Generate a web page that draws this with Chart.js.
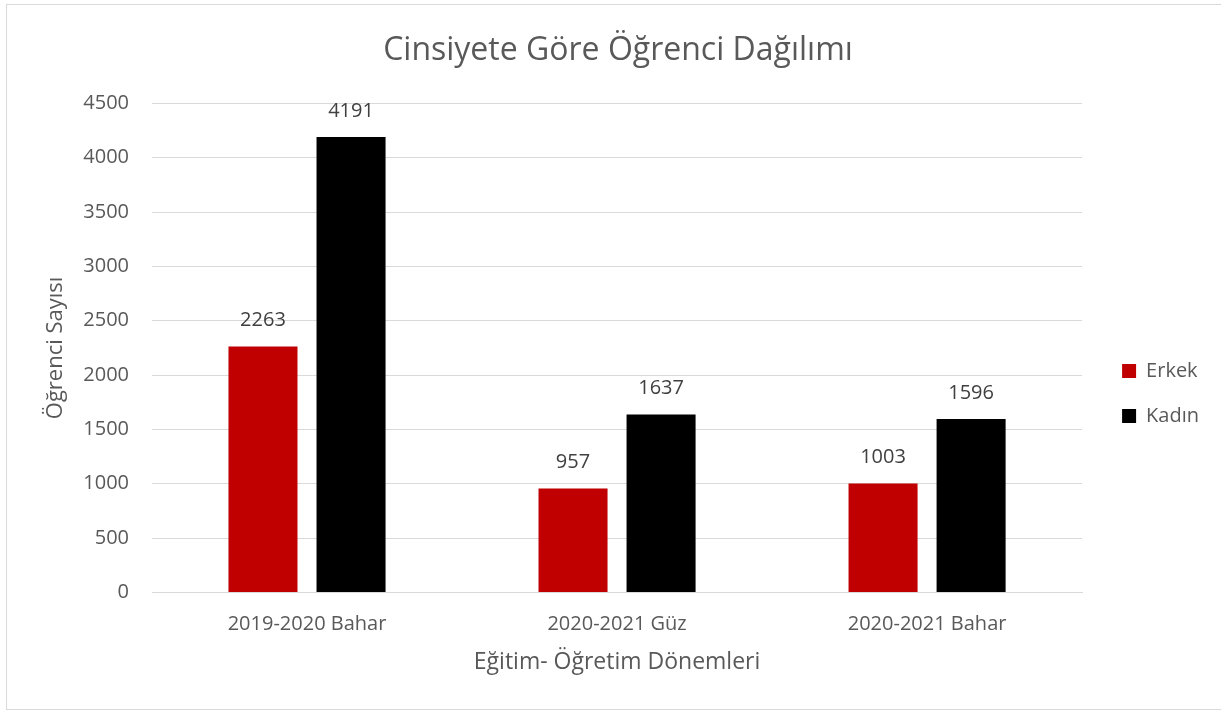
<!DOCTYPE html>
<html>
<head>
<meta charset="utf-8">
<script src="https://cdn.jsdelivr.net/npm/chart.js@4"></script>
<style>
  body { margin: 0; background: #fff; overflow: hidden; }
  #box { position: absolute; left: 6px; top: 4px; width: 1215px; height: 704px; border: 1px solid #d9d9d9; border-right: none; }
</style>
</head>
<body>
<div id="box"><canvas id="genderChart" width="1214" height="704"></canvas></div>
<script>
// Data
const categories = ['2019-2020 Bahar', '2020-2021 Güz', '2020-2021 Bahar'];
const erkek = [2263, 957, 1003];
const kadin = [4191, 1637, 1596];
const yTicks = [0, 500, 1000, 1500, 2000, 2500, 3000, 3500, 4000, 4500];

const FONT = 'Open Sans';
const GREY = '#595959';

// draw the value above each bar
const barValues = {
    id: 'barValues',
    afterDatasetsDraw(chart) {
        const ctx = chart.ctx;
        ctx.save();
        ctx.font = '20px "' + FONT + '"';
        ctx.fillStyle = '#404040';
        ctx.textAlign = 'center';
        ctx.textBaseline = 'middle';
        chart.data.datasets.forEach((ds, i) => {
            chart.getDatasetMeta(i).data.forEach((bar, j) => {
                ctx.fillText(ds.data[j], bar.x, bar.y - 26);
            });
        });
        ctx.restore();
    }
};

const config = {
    type: 'bar',
    data: {
        labels: categories,
        datasets: [
            { label: 'Erkek', data: erkek, backgroundColor: '#c00000', categoryPercentage: 0.568, barPercentage: 0.784 },
            { label: 'Kadın', data: kadin, backgroundColor: '#000000', categoryPercentage: 0.568, barPercentage: 0.784 }
        ]
    },
    options: {
        responsive: false,
        animation: false,
        layout: { padding: { left: 20, right: 12, top: 6, bottom: 29 } },
        plugins: {
            title: {
                display: true,
                text: 'Cinsiyete Göre Öğrenci Dağılımı',
                color: GREY,
                font: { family: FONT, size: 32, weight: 'normal' },
                padding: { top: 21, bottom: 33 }
            },
            legend: {
                position: 'right',
                title: { display: true, text: ' ', font: { size: 10 }, padding: { top: 40, bottom: 44 } },
                labels: {
                    color: GREY,
                    font: { family: FONT, size: 20 },
                    boxWidth: 14,
                    boxHeight: 14,
                    padding: 25
                }
            },
            tooltip: { enabled: false }
        },
        scales: {
            x: {
                grid: { display: false, drawTicks: false },
                border: { color: '#d9d9d9', width: 1 },
                ticks: { color: GREY, font: { family: FONT, size: 20 }, padding: 20 },
                title: { display: true, text: 'Eğitim- Öğretim Dönemleri', color: GREY, font: { family: FONT, size: 23 }, padding: { top: -8, bottom: 4 } }
            },
            y: {
                min: 0,
                max: 4500,
                afterBuildTicks(scale) { scale.ticks = yTicks.map(v => ({ value: v })); },
                afterFit(scale) { scale.width = 125; },
                grid: { color: '#d9d9d9', drawTicks: false },
                border: { display: false },
                ticks: { color: GREY, font: { family: FONT, size: 20 }, padding: 23, callback: v => String(v) },
                title: { display: true, text: 'Öğrenci Sayısı', color: GREY, font: { family: FONT, size: 22 }, padding: { top: 16, bottom: 4 } }
            },
            // empty box between plot and legend
            gap: {
                position: 'right',
                display: true,
                min: 0,
                max: 1,
                afterFit(scale) { scale.width = 15; },
                grid: { display: false, drawTicks: false },
                border: { display: false },
                ticks: { display: false }
            }
        }
    },
    plugins: [barValues]
};

const ctx = document.getElementById('genderChart').getContext('2d');
const genderChart = new Chart(ctx, config);
</script>
</body>
</html>
